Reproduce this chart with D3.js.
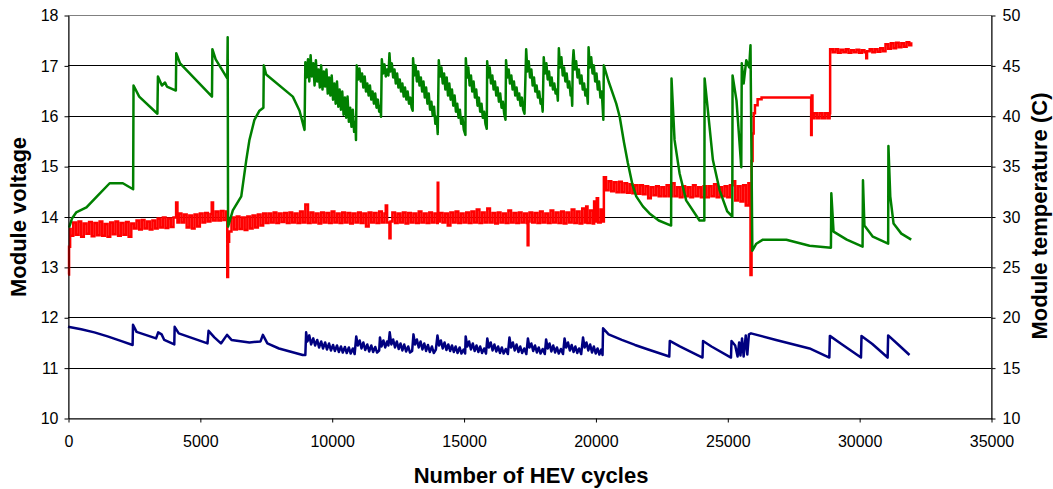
<!DOCTYPE html>
<html><head><meta charset="utf-8">
<script src="https://cdn.jsdelivr.net/npm/d3@7"></script>
<style>body{margin:0;background:#fff} text{font-family:"Liberation Sans",Arial,sans-serif}</style>
</head><body><svg id="c" width="1053" height="489"></svg>
<script>
// ---- data ----
const xTicks = [0,5000,10000,15000,20000,25000,30000,35000];
const voltTicks = [10,11,12,13,14,15,16,17,18];
const tempTicks = [10,15,20,25,30,35,40,45,50];

// module voltage (left axis), blue trace
const blueVoltage = [[0,11.81],[500,11.76],[1000,11.70],[1500,11.62],[2000,11.53],[2450,11.45],[2465,11.85],[2600,11.71],[3340,11.58],[3420,11.70],[3550,11.66],[3650,11.55],[4030,11.46],[4045,11.81],[4200,11.68],[5290,11.48],[5330,11.73],[5550,11.60],[5800,11.48],[6030,11.65],[6200,11.55],[6880,11.50],[7300,11.52],[7390,11.65],[7560,11.48],[8000,11.38],[8900,11.25],
[9000,11.25],[9030,11.70],[9080,11.52],[9150,11.64],[9220,11.46],[9300,11.58],[9370,11.44],[9450,11.55],[9520,11.40],[9600,11.52],[9670,11.38],[9750,11.50],[9820,11.36],[9900,11.48],[9970,11.34],[10050,11.45],[10120,11.33],[10200,11.44],[10270,11.31],[10350,11.42],[10420,11.30],[10500,11.41],[10570,11.29],[10650,11.40],[10720,11.28],[10800,11.38],[10870,11.27],
[10930,11.62],[10990,11.44],[11060,11.54],[11130,11.38],[11200,11.50],[11270,11.35],[11350,11.46],[11420,11.32],[11500,11.44],[11570,11.31],[11650,11.41],[11720,11.30],[11800,11.34],
[11830,11.60],[11890,11.42],[11960,11.54],[12030,11.40],[12100,11.52],[12150,11.44],[12200,11.70],[12260,11.46],[12330,11.56],[12400,11.40],[12470,11.52],[12540,11.37],[12610,11.48],[12680,11.34],[12750,11.46],[12820,11.32],[12900,11.42],[12970,11.30],[13050,11.33],
[13100,11.66],[13160,11.46],[13230,11.56],[13300,11.40],[13370,11.52],[13440,11.36],[13510,11.48],[13580,11.33],[13650,11.45],[13720,11.31],[13800,11.42],[13870,11.29],[13950,11.36],
[14010,11.64],[14070,11.44],[14140,11.54],[14210,11.38],[14280,11.50],[14350,11.35],[14420,11.46],[14490,11.33],[14560,11.44],[14630,11.31],[14700,11.42],[14770,11.29],[14850,11.40],[14920,11.28],[15000,11.36],[15060,11.28],
[15080,11.62],[15140,11.42],[15210,11.52],[15280,11.36],[15350,11.48],[15420,11.33],[15490,11.44],[15560,11.31],[15630,11.42],[15700,11.29],[15780,11.38],[15850,11.28],
[15900,11.58],[15960,11.40],[16030,11.50],[16100,11.34],[16170,11.46],[16240,11.32],[16310,11.42],[16380,11.29],[16450,11.40],[16520,11.28],[16600,11.37],[16680,11.27],
[16740,11.60],[16800,11.40],[16870,11.50],[16940,11.34],[17010,11.46],[17080,11.31],[17150,11.42],[17220,11.29],[17300,11.38],[17380,11.27],
[17440,11.58],[17500,11.40],[17570,11.48],[17640,11.33],[17710,11.44],[17780,11.30],[17850,11.40],[17920,11.28],[18000,11.37],[18080,11.27],
[18130,11.56],[18190,11.38],[18260,11.48],[18330,11.32],[18400,11.44],[18470,11.30],[18540,11.40],[18610,11.28],[18690,11.37],[18770,11.27],
[18830,11.58],[18890,11.40],[18960,11.50],[19030,11.34],[19100,11.45],[19170,11.31],[19240,11.42],[19310,11.29],[19380,11.38],[19460,11.27],
[19530,11.60],[19590,11.40],[19660,11.50],[19730,11.34],[19800,11.46],[19870,11.30],[19940,11.42],[20010,11.28],[20080,11.38],[20150,11.26],[20220,11.36],[20270,11.25],
[20290,11.78],[20500,11.66],[21000,11.55],[21500,11.45],[22000,11.36],[22800,11.22],[22820,11.53],[23200,11.42],[24060,11.20],[24080,11.53],[24400,11.42],[25140,11.20],[25160,11.53],[25300,11.44],[25390,11.22],[25450,11.50],[25500,11.24],[25560,11.58],[25620,11.22],[25700,11.64],[25760,11.26],[25820,11.66],[25900,11.68],[26850,11.55],[28120,11.38],[28870,11.20],[28890,11.63],[29300,11.48],[30070,11.20],[30090,11.63],[30500,11.47],[31080,11.20],[31100,11.64],[31500,11.45],[31910,11.25]];

// second voltage trace (left axis), red
const redVoltage = [[0,12.85],[40,13.40],[80,13.75],
[100,13.62],[200,13.88],[300,13.64],[400,13.90],[500,13.60],[600,13.86],[700,13.66],[800,13.89],[900,13.61],[1000,13.87],
[1100,13.63],[1200,13.90],[1300,13.62],[1400,13.85],[1500,13.60],[1600,13.88],[1700,13.65],[1800,13.90],[1900,13.62],[2000,13.87],
[2100,13.64],[2200,13.89],[2300,13.60],[2400,13.86],
[2500,13.76],[2600,13.92],[2700,13.74],[2800,13.93],[2900,13.76],[3000,13.90],[3100,13.74],[3200,13.92],[3300,13.76],
[3400,13.96],[3500,13.78],[3600,13.98],[3700,13.77],[3800,13.96],[3900,13.79],[4000,13.98],[4100,14.28],[4150,13.88],
[4200,14.06],[4300,13.88],[4400,14.04],[4500,13.78],[4600,14.02],[4700,13.76],[4800,14.04],[4900,13.80],[5000,14.06],[5100,13.88],[5200,14.07],[5300,13.90],[5400,14.05],[5450,14.28],
[5500,13.92],[5600,14.10],[5700,13.92],[5800,14.11],[5900,13.93],[6000,14.10],[6040,12.80],[6070,13.50],[6110,13.70],
[6200,13.98],[6300,13.74],[6400,14.00],[6500,13.75],[6600,13.98],[6700,13.73],[6800,14.00],[6900,13.76],[7000,14.02],[7100,13.78],[7200,14.04],[7300,13.82],[7400,14.06],
[7500,13.87],[7600,14.06],[7700,13.88],[7800,14.08],[7900,13.87],[8000,14.06],[8100,13.89],[8200,14.07],[8300,13.87],[8400,14.08],
[8500,13.88],[8600,14.06],[8700,13.87],[8800,14.10],[8900,13.88],[9000,14.24],[9100,13.87],[9200,14.08],[9300,13.88],[9400,14.06],
[9500,13.86],[9600,14.08],[9700,13.88],[9800,14.07],[9900,13.87],[10000,14.10],[10100,13.88],[10200,14.06],[10300,13.87],[10400,14.08],
[10500,13.88],[10600,14.07],[10700,13.86],[10800,14.06],[10900,13.88],[11000,14.08],[11100,13.87],[11200,14.06],[11300,13.80],[11400,14.08],
[11500,13.88],[11600,14.07],[11700,13.87],[11800,14.10],[11900,13.88],[12000,14.06],[12050,14.22],[12100,13.88],[12190,13.57],[12230,13.90],
[12300,14.08],[12400,13.87],[12500,14.06],[12600,13.88],[12700,14.08],[12800,13.86],[12900,14.07],[13000,13.88],[13100,14.06],[13200,13.87],
[13300,14.10],[13400,13.88],[13500,14.06],[13600,13.87],[13700,14.08],[13800,13.88],[13900,14.06],[14000,13.87],[14020,14.67],[14040,13.90],
[14100,14.07],[14200,13.88],[14300,14.06],[14400,13.82],[14500,14.08],[14600,13.88],[14700,14.10],[14800,13.87],[14900,14.06],[15000,13.88],
[15100,14.08],[15200,13.87],[15300,14.10],[15400,13.88],[15500,14.14],[15600,13.87],[15700,14.08],[15800,13.88],[15900,14.16],[16000,13.88],
[16100,14.07],[16200,13.86],[16300,14.08],[16400,13.88],[16500,14.06],[16600,13.87],[16700,14.12],[16800,13.88],[16900,14.07],[17000,13.87],
[17100,14.08],[17200,13.88],[17300,14.06],[17400,13.87],[17430,13.43],[17460,13.90],[17500,14.08],[17600,13.88],[17700,14.07],[17800,13.87],
[17900,14.10],[18000,13.88],[18100,14.06],[18200,13.87],[18300,14.12],[18400,13.88],[18500,14.08],[18600,13.87],[18700,14.10],[18800,13.86],
[18900,14.08],[19000,13.88],[19100,14.14],[19200,13.87],[19300,14.10],[19400,13.86],[19500,14.16],[19600,13.88],[19650,14.20],[19700,13.87],
[19800,14.12],[19900,13.86],[19950,14.30],[20000,13.90],[20050,14.36],[20100,13.88],[20200,14.14],[20280,13.90],
[20320,14.78],[20400,14.52],[20500,14.70],[20600,14.50],[20700,14.68],[20800,14.48],[20900,14.69],[21000,14.48],[21100,14.66],[21200,14.47],
[21300,14.64],[21400,14.46],[21500,14.62],[21600,14.45],[21700,14.62],[21800,14.44],[21900,14.60],[22000,14.36],[22100,14.58],[22200,14.42],
[22300,14.60],[22400,14.40],[22500,14.58],[22600,14.40],[22700,14.62],[22800,14.40],[22900,14.66],[23000,14.40],[23100,14.58],[23200,14.38],
[23300,14.60],[23400,14.40],[23500,14.58],[23600,14.38],[23700,14.62],[23800,14.40],[23900,14.58],[24000,14.38],[24100,14.60],[24200,14.38],
[24300,14.60],[24400,14.40],[24500,14.64],[24600,14.38],[24700,14.58],[24800,14.40],[24900,14.60],[25000,14.38],[25100,14.62],[25200,14.70],
[25300,14.32],[25400,14.60],[25500,14.30],[25600,14.62],[25700,14.22],[25800,14.66],
[25880,12.84],[25920,15.10],[25960,15.65],[26000,16.05],[26050,16.21],[26150,16.33],[26300,16.36],[28150,16.36],[28180,15.62],[28200,16.40],
[28230,15.95],[28300,16.05],[28400,15.95],[28500,16.05],[28600,15.95],[28700,16.05],[28800,15.95],[28880,16.05],
[28900,17.32],[29000,17.26],[29100,17.32],[29200,17.25],[29300,17.31],[29400,17.26],[29500,17.32],[29600,17.25],[29700,17.30],[29800,17.26],
[29900,17.31],[30000,17.25],[30100,17.30],[30200,17.26],[30270,17.14],[30300,17.28],[30400,17.32],[30500,17.26],[30600,17.32],[30700,17.27],
[30800,17.34],[30900,17.28],[31000,17.42],[31100,17.33],[31200,17.44],[31300,17.34],[31400,17.45],[31500,17.36],[31600,17.44],[31700,17.37],
[31800,17.46],[31900,17.40],[31975,17.46]];

// module temperature (right axis), green trace
const greenTemp = [[40,28.9],[150,29.8],[310,30.4],[700,30.9],[1100,32.0],[1580,33.3],[2080,33.3],[2470,32.7],
[2485,43.0],[2700,41.9],[3390,40.2],[3410,43.9],[3560,43.0],[3680,43.3],[3750,42.9],[4090,42.5],
[4105,46.2],[4250,45.2],[5460,41.9],[5475,46.6],[5600,45.6],[6040,43.7],[6055,47.8],[6070,29.0],
[6250,30.6],[6570,32.0],[6760,35.6],[6880,37.6],[7070,39.6],[7260,40.5],[7410,40.8],[7425,45.0],[7515,44.1],[8525,41.9],[8780,40.5],[8970,38.6],
[9000,45.3],[9050,43.8],[9100,45.6],[9150,43.4],[9200,46.0],[9250,43.9],[9300,45.2],[9350,43.0],[9400,45.5],[9450,43.4],
[9500,44.6],[9550,42.8],[9600,45.0],[9650,42.6],[9700,44.4],[9750,42.9],[9800,44.6],[9850,42.2],[9900,43.8],[9950,42.0],
[10000,44.0],[10050,41.6],[10100,43.2],[10150,41.2],[10200,43.4],[10250,40.9],[10300,42.6],[10350,40.6],[10400,42.4],[10450,40.1],
[10500,41.8],[10550,39.8],[10600,41.9],[10650,39.4],[10700,40.8],[10750,38.9],[10800,40.6],[10850,38.4],[10900,39.4],[10920,37.6],
[10950,45.0],[11000,43.6],[11050,44.7],[11100,43.4],[11150,44.2],[11200,42.8],[11250,43.9],[11300,42.4],[11350,43.2],[11400,42.0],
[11450,43.0],[11500,41.6],[11550,42.4],[11600,41.2],[11650,42.2],[11700,40.8],[11750,41.6],[11800,40.4],[11850,41.0],[11870,39.9],
[11900,45.6],[11950,44.2],[12000,45.1],[12050,43.9],[12100,44.6],[12150,44.0],[12190,46.2],[12230,44.4],[12280,45.2],[12330,43.8],
[12380,44.6],[12430,43.2],[12480,44.2],[12530,42.8],[12580,43.6],[12630,42.4],[12680,43.2],[12730,41.9],[12780,42.8],[12830,41.6],
[12880,42.4],[12930,41.2],[12980,41.8],[13030,40.8],[13070,40.5],
[13085,45.7],[13130,44.0],[13180,45.0],[13230,43.4],[13280,44.4],[13330,43.0],[13380,43.8],[13430,42.4],[13480,43.4],[13530,41.8],
[13580,42.8],[13630,41.2],[13680,42.2],[13730,40.6],[13780,41.4],[13830,40.0],[13880,40.9],[13930,39.2],[13980,39.9],[14020,38.2],
[14060,45.5],[14110,43.9],[14160,44.8],[14210,43.2],[14260,44.2],[14310,42.6],[14360,43.8],[14410,42.0],[14460,43.2],[14510,41.6],
[14560,42.6],[14610,41.0],[14660,42.0],[14710,40.4],[14760,41.2],[14810,39.8],[14860,40.6],[14910,39.2],[14960,39.8],[15010,38.6],[15070,38.1],
[15085,45.7],[15130,43.8],[15180,44.8],[15230,43.0],[15280,44.0],[15330,42.4],[15380,43.4],[15430,41.8],[15480,42.6],[15530,41.0],
[15580,41.8],[15630,40.4],[15680,41.2],[15730,39.8],[15780,40.4],[15830,39.2],[15880,38.7],
[15895,45.4],[15940,43.8],[15990,44.8],[16040,43.2],[16090,44.0],[16140,42.6],[16190,43.4],[16240,42.0],[16290,42.8],[16340,41.4],
[16390,42.2],[16440,40.8],[16490,41.4],[16540,40.2],[16590,39.6],
[16610,45.5],[16660,43.8],[16710,44.6],[16760,43.2],[16810,44.0],[16860,42.6],[16910,43.4],[16960,42.0],[17010,42.8],[17060,41.6],
[17110,42.2],[17160,41.0],[17210,41.8],[17260,40.6],[17310,40.2],
[17374,46.6],[17420,44.4],[17470,45.4],[17520,43.8],[17570,44.6],[17620,43.0],[17670,43.8],[17720,42.4],[17770,43.0],[17820,41.8],
[17870,42.4],[17920,41.2],[17960,41.6],[18000,40.4],
[18040,45.8],[18090,44.2],[18140,45.2],[18190,43.6],[18240,44.4],[18290,43.0],[18340,43.8],[18390,42.6],[18440,43.2],[18490,42.2],[18540,42.6],[18575,41.5],
[18613,46.7],[18660,44.8],[18710,45.8],[18760,44.0],[18810,44.8],[18860,43.4],[18910,44.2],[18960,42.8],[19010,43.4],[19060,42.0],[19090,42.6],[19120,41.0],
[19140,45.2],[19170,46.5],[19220,44.6],[19270,45.4],[19320,43.8],[19370,44.6],[19420,43.2],[19470,44.0],[19520,42.6],[19570,43.2],[19620,42.0],[19670,42.6],[19712,41.2],
[19740,46.8],[19790,44.8],[19840,45.8],[19890,44.2],[19940,45.0],[19990,43.4],[20040,44.2],[20090,42.6],[20140,43.4],[20190,41.8],[20240,42.4],[20300,39.6],
[20318,45.0],[20500,43.4],[20790,41.2],[20920,39.9],[21080,37.4],[21230,35.3],[21400,33.2],[21547,32.0],[21800,31.0],[22051,30.3],[22400,29.6],[22870,29.1],
[22885,43.7],[23000,37.6],[23190,34.3],[23440,31.6],[23947,29.6],[24130,29.6],
[24140,43.7],[24265,40.5],[24455,35.6],[24710,32.6],[25000,30.5],[25190,30.0],
[25200,44.0],[25350,41.5],[25530,34.9],[25550,45.2],[25620,43.2],[25720,45.5],[25830,44.8],[25880,47.0],[25950,26.6],
[26100,27.3],[26350,27.7],[27240,27.7],[28120,27.1],[28930,26.9],
[28945,32.3],[29030,28.5],[29530,27.7],[30130,27.0],
[30145,33.6],[30200,29.1],[30520,28.0],[31100,27.3],
[31110,37.0],[31180,32.0],[31305,29.3],[31600,28.3],[31975,27.7]];

// ---- layout ----
const L = 68, R = 991, T = 15, B = 418;
const svg = d3.select("#c");
const x = d3.scaleLinear().domain([0, 35000]).range([L, R]);
const yL = d3.scaleLinear().domain([10, 18]).range([B, T]);
const yR = d3.scaleLinear().domain([10, 50]).range([B, T]);

// plot border (grey) and gridlines
svg.append("rect").attr("x", L + 0.5).attr("y", T + 0.5).attr("width", R - L).attr("height", B - T)
  .attr("fill", "none").attr("stroke", "#808080").attr("stroke-width", 1);
svg.append("g").selectAll("line").data(voltTicks.filter(v => v > 10 && v < 18)).join("line")
  .attr("x1", L).attr("x2", R).attr("y1", d => Math.round(yL(d)) + 0.5).attr("y2", d => Math.round(yL(d)) + 0.5)
  .attr("stroke", "#000").attr("stroke-width", 1);

// series
const lineL = d3.line().x(d => x(d[0])).y(d => yL(d[1]));
const lineStep = d3.line().x(d => x(d[0])).y(d => yL(d[1])).curve(d3.curveStepAfter);
const lineR = d3.line().x(d => x(d[0])).y(d => yR(d[1]));

svg.append("path").datum(blueVoltage).attr("d", lineL).attr("fill", "none")
  .attr("stroke", "#000080").attr("stroke-width", 2.5).attr("stroke-linejoin", "round");
svg.append("path").datum(redVoltage).attr("d", lineStep).attr("fill", "none")
  .attr("stroke", "#ff0000").attr("stroke-width", 2.5).attr("stroke-linejoin", "miter");
svg.append("path").datum(greenTemp).attr("d", lineR).attr("fill", "none")
  .attr("stroke", "#008000").attr("stroke-width", 2.5).attr("stroke-linejoin", "round");

// axes
function styleAxis(g) {
  g.selectAll(".domain").attr("stroke", "#000").attr("stroke-width", 1);
  g.selectAll(".tick line").attr("stroke", "#000");
  g.selectAll("text").attr("fill", "#000").style("font-size", "16px")
    .style("font-family", '"Liberation Sans", Arial, sans-serif');
}
svg.append("g").attr("transform", `translate(${L + 0.5},0.5)`)
  .call(d3.axisLeft(yL).tickValues(voltTicks).tickSize(4).tickSizeOuter(0).tickPadding(6).tickFormat(d3.format("d")))
  .call(styleAxis);
svg.append("g").attr("transform", `translate(${R + 0.5},0.5)`)
  .call(d3.axisRight(yR).tickValues(tempTicks).tickSize(4).tickSizeOuter(0).tickPadding(7).tickFormat(d3.format("d")))
  .call(styleAxis);
svg.append("g").attr("transform", `translate(0.5,${B + 0.5})`)
  .call(d3.axisBottom(x).tickValues(xTicks).tickSize(4).tickSizeOuter(0).tickPadding(13).tickFormat(d3.format("d")))
  .call(styleAxis);

// titles
const tf = '"Liberation Sans", Arial, sans-serif';
svg.append("text").attr("x", 531).attr("y", 483).attr("text-anchor", "middle")
  .style("font-family", tf).style("font-size", "22px").style("font-weight", "bold").text("Number of HEV cycles");
svg.append("text").attr("transform", "translate(26,217) rotate(-90)").attr("text-anchor", "middle")
  .style("font-family", tf).style("font-size", "22px").style("font-weight", "bold").text("Module voltage");
svg.append("text").attr("transform", "translate(1047,216) rotate(-90)").attr("text-anchor", "middle")
  .style("font-family", tf).style("font-size", "22px").style("font-weight", "bold").text("Module temperature (C)");
</script>
</body></html>
